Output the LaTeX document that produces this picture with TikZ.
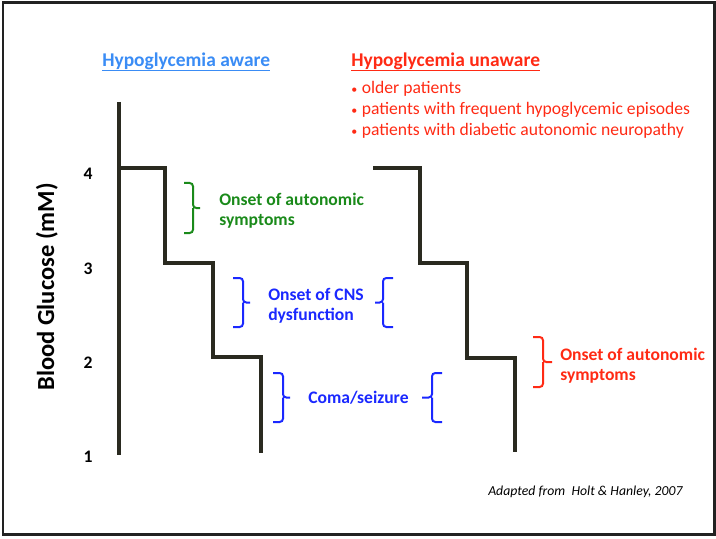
\documentclass[tikz,border=0pt]{standalone}
\usepackage{fontspec}
\setmainfont{Carlito}
\definecolor{stair}{HTML}{2A2A20}
\definecolor{awareblue}{HTML}{3A8CF5}
\definecolor{lblblue}{HTML}{1A28FF}
\definecolor{lblred}{HTML}{FF2A14}
\definecolor{lblgreen}{HTML}{1A8A1A}
\definecolor{framegray}{HTML}{222222}
\newcommand\closebr[6]{\draw[bracestyle,#1] (#2,#5) -- (#3,#5) -- (#3,{(#5+#6)/2}) -- (#4,{(#5+#6)/2}) (#3,{(#5+#6)/2}) -- (#3,#6) -- (#2,#6);}
\newcommand\openbr[6]{\draw[bracestyle,#1] (#2,#5) -- (#3,#5) -- (#3,{(#5+#6)/2}) -- (#4,{(#5+#6)/2}) (#3,{(#5+#6)/2}) -- (#3,#6) -- (#2,#6);}
\newcommand\smbul{{\fontsize{9}{9}\selectfont\textbullet}\hspace{3.5pt}}
\tikzset{
  bracestyle/.style={line width=1.5pt, rounded corners=2.5pt},
  stairline/.style={draw=stair, line width=2.4pt, line join=miter},
  title/.style={inner sep=0pt, anchor=base west, font=\bfseries\fontsize{14.6}{17}\selectfont},
  lbl/.style={inner sep=0pt, anchor=base west, align=left, font=\bfseries\fontsize{13.2}{15}\selectfont},
  bullet/.style={inner sep=0pt, anchor=base west, text=lblred, font=\fontsize{13.2}{15}\selectfont},
  tick/.style={inner sep=0pt, anchor=base, font=\bfseries\fontsize{13.2}{15}\selectfont},
}
\begin{document}
\begin{tikzpicture}[x=0.75pt,y=-0.75pt]
\useasboundingbox (0,0) rectangle (716,538);
\draw[framegray, line width=1.6pt] (3,2.5) rectangle (714.5,534.5);
% staircases
\draw[stairline] (119,102) -- (119,455);
\draw[stairline] (119,168) -- (165,168) -- (165,263) -- (213,263) -- (213,357) -- (261,357) -- (261,453);
\draw[stairline] (373,168) -- (420,168) -- (420,263) -- (467,263) -- (467,358) -- (515,358) -- (515,452);
% axis labels
\node[tick] (t4) at (88,180) {4};
\node[tick] (t3) at (88,274) {3};
\node[tick] (t2) at (88,368) {2};
\node[tick] (t1) at (88,462) {1};
\node[rotate=90, inner sep=0pt, font=\bfseries\fontsize{18.4}{20}\selectfont] (ylab) at (47,287) {Blood Glucose (mM)};
% titles
\node[title, text=awareblue] (aware) at (102,67) {Hypoglycemia aware};
\draw[awareblue, line width=0.9pt] ([yshift=-2.6pt]aware.base west) -- ([yshift=-2.6pt]aware.base east);
\node[title, text=lblred] (unaware) at (351,67) {Hypoglycemia unaware};
\draw[lblred, line width=0.9pt] ([yshift=-2.6pt]unaware.base west) -- ([yshift=-2.6pt]unaware.base east);
\node[bullet] (b1) at (351,94) {\smbul older patients};
\node[bullet] (b2) at (351,115) {\smbul patients with frequent hypoglycemic episodes};
\node[bullet] (b3) at (351,136) {\smbul patients with diabetic autonomic neuropathy};
% labels
\node[lbl, text=lblgreen] (auto1) at (219,225) {Onset of autonomic\\symptoms};
\node[lbl, text=lblblue] (cns) at (268,320) {Onset of CNS\\dysfunction};
\node[lbl, text=lblblue] (coma) at (308,403) {Coma/seizure};
\node[lbl, text=lblred] (auto2) at (560,380) {Onset of autonomic\\symptoms};
\node[inner sep=0pt, anchor=base west, font=\itshape\fontsize{10.3}{12}\selectfont] (src) at (488,495) {Adapted from\ \ Holt \& Hanley, 2007};
% braces
\closebr{lblgreen}{184}{193}{200}{183}{233}
\closebr{lblblue}{233}{243}{250}{278}{327}
\openbr{lblblue}{393}{383}{375}{278}{327}
\closebr{lblblue}{273}{283}{290}{373}{422}
\openbr{lblblue}{442}{432}{422}{373}{422}
\closebr{lblred}{533}{543}{552}{337}{387}
\end{tikzpicture}
\end{document}
